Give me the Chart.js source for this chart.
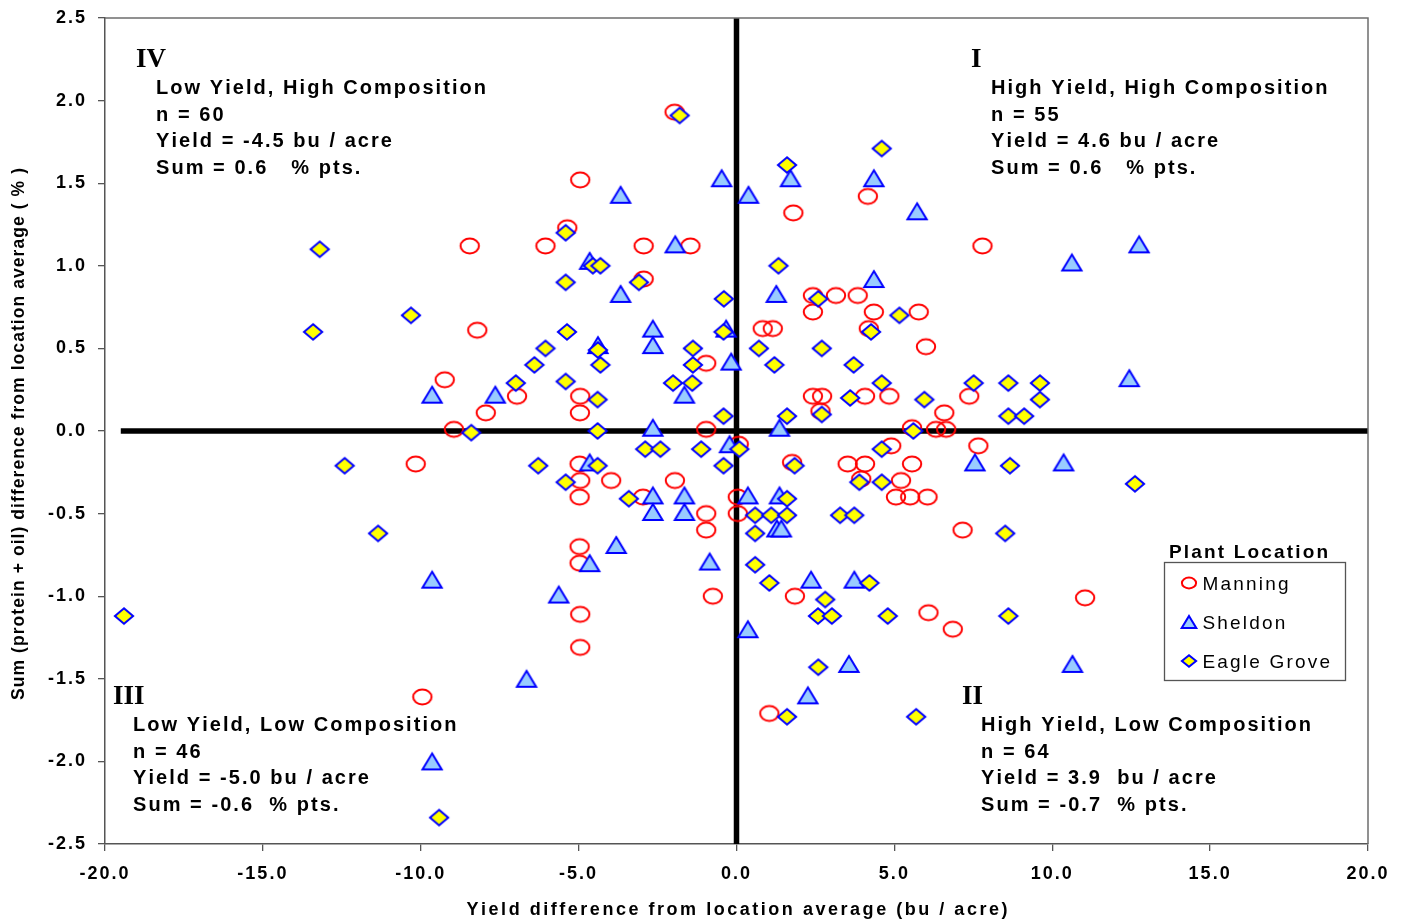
<!DOCTYPE html>
<html><head><meta charset="utf-8">
<script src="https://cdn.jsdelivr.net/npm/chart.js@4.4.1/dist/chart.umd.min.js"></script>
<style>html,body{margin:0;padding:0;background:#fff}#wrap{width:1408px;height:924px;position:relative}</style>
</head><body><div id="wrap"><canvas id="c"></canvas></div>
<script>
// ---- Data ----
const manningYield = [-4.95,-5.36,-8.45,-6.05,-8.21,-9.24,-6.95,-4.95,-4.96,-7.94,-8.95,-1.96,1.80,-2.94,-1.46,-2.94,2.42,3.15,2.42,0.83,1.15,-0.96,2.42,2.71,2.66,-0.96,4.16,7.79,3.84,4.35,5.77,4.19,6.00,4.07,4.84,7.37,6.58,5.56,6.32,6.64,-10.16,-4.97,-4.95,-3.97,-4.97,0.07,-1.95,1.76,-2.96,-0.96,-0.96,0.04,0.04,-0.75,1.85,1.04,-4.97,-4.97,-4.95,-4.95,-9.95,4.90,7.66,3.52,4.07,5.56,3.95,5.21,5.05,5.50,6.05,7.16,6.08,6.85,11.04];
const manningSum   = [1.52,1.23,1.12,1.12,0.61,0.31,0.21,0.21,0.11,0.11,0.01,1.93,1.32,1.12,1.12,0.92,0.82,0.82,0.72,0.62,0.62,0.41,0.21,0.21,0.12,0.01,1.42,1.12,0.82,0.72,0.72,0.62,0.51,0.21,0.21,0.21,0.11,0.02,0.01,0.01,-0.20,-0.20,-0.30,-0.30,-0.40,-0.08,-0.30,-0.19,-0.40,-0.50,-0.60,-0.40,-0.50,-1.00,-1.00,-1.71,-0.70,-0.80,-1.11,-1.31,-1.61,-0.09,-0.09,-0.20,-0.20,-0.20,-0.29,-0.30,-0.40,-0.40,-0.40,-0.60,-1.10,-1.20,-1.01];

const sheldonYield = [-3.67,-4.65,-3.67,-4.39,-9.64,-7.64,-0.47,0.38,1.71,-1.94,1.26,-2.65,-2.65,-0.33,-0.17,-1.65,1.36,-2.65,4.35,5.72,4.35,-4.65,-0.22,-2.65,-2.65,-1.65,-1.65,0.36,1.36,1.28,1.42,-3.81,-0.85,2.36,0.36,2.26,-4.65,-9.64,-5.63,-6.65,-9.64,7.55,10.36,3.73,3.56,10.62,12.75,12.44,10.64];
const sheldonSum   = [1.43,1.03,0.83,0.52,0.22,0.22,1.53,1.43,1.53,1.13,0.83,0.62,0.52,0.62,0.42,0.22,0.02,0.02,1.53,1.33,0.92,-0.19,-0.08,-0.39,-0.49,-0.39,-0.49,-0.39,-0.39,-0.59,-0.59,-0.69,-0.79,-0.90,-1.20,-1.60,-0.80,-0.90,-0.99,-1.50,-2.00,-0.19,-0.19,-0.90,-1.41,1.02,1.13,0.32,-1.41];

const egroveYield = [-5.41,-4.55,-4.31,-5.41,-10.31,-5.37,-4.39,-6.05,-6.40,-4.31,-6.99,-5.41,-4.40,-8.40,-4.40,-1.80,1.60,-3.09,1.33,-0.40,2.59,-0.41,0.71,2.70,-1.38,-1.38,1.20,-2.01,-1.40,2.70,-0.41,1.60,4.60,5.16,4.26,3.71,4.60,7.51,8.61,9.61,3.60,5.95,9.61,8.61,9.11,5.60,-6.28,-4.40,-5.41,-2.89,-2.41,-1.12,0.09,-0.41,1.84,-3.41,0.59,0.59,1.10,1.60,1.60,0.59,1.04,2.81,2.58,3.02,2.59,1.60,-11.35,-9.42,4.60,8.66,3.89,4.60,3.28,3.73,8.51,4.21,4.79,8.61,5.69,-13.20,-13.41,-12.41,-19.40,12.62];
const egroveSum   = [1.20,1.00,1.00,0.90,0.70,0.60,0.49,0.50,0.40,0.40,0.29,0.30,0.19,-0.01,0.00,1.91,1.61,0.90,1.00,0.80,0.80,0.60,0.50,0.50,0.50,0.40,0.40,0.29,0.29,0.10,0.09,0.09,1.71,0.70,0.60,0.40,0.29,0.29,0.29,0.29,0.20,0.19,0.19,0.09,0.09,0.00,-0.21,-0.21,-0.31,-0.11,-0.11,-0.11,-0.11,-0.21,-0.21,-0.41,-0.51,-0.62,-0.51,-0.51,-0.41,-0.81,-0.92,-1.02,-1.12,-1.12,-1.43,-1.73,-0.62,-2.34,-0.11,-0.21,-0.31,-0.31,-0.51,-0.51,-0.62,-0.92,-1.12,-1.12,-1.73,1.10,0.60,-0.21,-1.12,-0.32];

const seriesNames = ["Manning","Sheldon","Eagle Grove"];
const legendTitle = "Plant Location";
const xTitle = "Yield difference from location average (bu / acre)";
const yTitle = "Sum (protein + oil) difference from location average ( % )";
const xRange = [-20, 20];
const yRange = [-2.5, 2.5];
const xStep = 5;
const yStep = 0.5;
const vLine = [[0, -2.5], [0, 2.5]];
const hLine = [[-19.5, 0], [20, 0]];
const quadNumerals = ["IV", "I", "III", "II"];
const quadIV  = ["Low Yield, High Composition", "n = 60", "Yield = -4.5 bu / acre", "Sum = 0.6   % pts."];
const quadI   = ["High Yield, High Composition", "n = 55", "Yield = 4.6 bu / acre", "Sum = 0.6   % pts."];
const quadIII = ["Low Yield, Low Composition", "n = 46", "Yield = -5.0 bu / acre", "Sum = -0.6  % pts."];
const quadII  = ["High Yield, Low Composition", "n = 64", "Yield = 3.9  bu / acre", "Sum = -0.7  % pts."];

// ---- helpers ----
const SANS = '"Liberation Sans", Arial, Helvetica, sans-serif';
const SERIF = '"Liberation Serif", "Times New Roman", serif';
function pts(xs, ys){ return xs.map((x,i)=>({x:x, y:ys[i]})); }
function mk(w,h,draw){ const c=document.createElement('canvas'); c.width=w; c.height=h; const g=c.getContext('2d'); draw(g,w/2,h/2); return c; }
function circleMk(rx,ry){ return mk(26,22,(g,cx,cy)=>{ g.beginPath(); g.ellipse(cx,cy,rx,ry,0,0,Math.PI*2); g.lineWidth=2; g.strokeStyle='#FF0000'; g.stroke(); }); }
function triMk(hw,hh){ return mk(28,26,(g,cx,cy)=>{ g.beginPath(); g.moveTo(cx,cy-hh); g.lineTo(cx+hw,cy+hh); g.lineTo(cx-hw,cy+hh); g.closePath(); g.fillStyle='#99CCFF'; g.fill(); g.lineWidth=2; g.lineJoin='miter'; g.strokeStyle='#0000FF'; g.stroke(); }); }
function diaMk(hw,hh){ return mk(28,24,(g,cx,cy)=>{ g.beginPath(); g.moveTo(cx,cy-hh); g.lineTo(cx+hw,cy); g.lineTo(cx,cy+hh); g.lineTo(cx-hw,cy); g.closePath(); g.fillStyle='#FFFF00'; g.fill(); g.lineWidth=2; g.strokeStyle='#0000FF'; g.stroke(); }); }
const circleImg = circleMk(9.2,7.4), triImg = triMk(9.6,7.9), diaImg = diaMk(9.1,7.8);
const circleLg = circleMk(7.1,5.4), triLg = triMk(7.3,6.1), diaLg = diaMk(7.1,5.7);

function natWidth(ctx,t){ let w=0; for(const ch of t) w+=ctx.measureText(ch).width; return w; }
function spacedWidth(ctx,t,sp){ return natWidth(ctx,t) + sp*([...t].length-1); }
function fitSpacing(ctx,t,target){ return (target-natWidth(ctx,t))/([...t].length-1); }
function drawSpaced(ctx,t,x,y,sp,align){
  const w=spacedWidth(ctx,t,sp);
  let cx = align==='center' ? x-w/2 : (align==='right' ? x-w : x);
  ctx.textAlign='left';
  for(const ch of t){ ctx.fillText(ch,cx,y); cx += ctx.measureText(ch).width + sp; }
}

const decor = {
  id:'decor',
  beforeDraw(chart){ chart.ctx.letterSpacing='2px'; },
  beforeDatasetsDraw(chart){ chart.ctx.letterSpacing='0px'; },
  afterDraw(chart){
    const ctx=chart.ctx, a=chart.chartArea;
    ctx.save();
    ctx.letterSpacing='0px';
    // top and right frame
    ctx.strokeStyle='#6e6e6e'; ctx.lineWidth=1.5;
    ctx.beginPath(); ctx.moveTo(a.left,a.top); ctx.lineTo(a.right,a.top); ctx.lineTo(a.right,a.bottom); ctx.stroke();
    ctx.fillStyle='#000'; ctx.textBaseline='alphabetic';
    // quadrant numerals
    ctx.font='bold 27px '+SERIF;
    ctx.textAlign='left';
    ctx.fillText(quadNumerals[0], 136, 67);
    ctx.fillText(quadNumerals[1], 971, 67);
    ctx.fillText(quadNumerals[2], 113, 704);
    ctx.fillText(quadNumerals[3], 962, 704);
    // quadrant text blocks
    ctx.font='bold 20px '+SANS;
    const sp = fitSpacing(ctx, quadIV[0], 330);
    const block=(lines,x,y0)=>{ lines.forEach((t,i)=>drawSpaced(ctx,t,x,y0+i*26.6,sp,'left')); };
    block(quadIV,156,94);
    block(quadI,991,94);
    block(quadIII,133,731);
    block(quadII,981,731);
    // legend
    ctx.font='bold 19px '+SANS;
    drawSpaced(ctx, legendTitle, 1169, 558, fitSpacing(ctx,legendTitle,159), 'left');
    ctx.strokeStyle='#555'; ctx.lineWidth=1.3;
    ctx.strokeRect(1164.5,562.5,181,118);
    ctx.font='19px '+SANS;
    const lsp = fitSpacing(ctx, seriesNames[0], 86);
    const imgs=[circleLg,triLg,diaLg], ly=[582.7,622,661];
    seriesNames.forEach((n,i)=>{
      ctx.drawImage(imgs[i], Math.round(1189-imgs[i].width/2), Math.round(ly[i]-imgs[i].height/2));
      drawSpaced(ctx,n,1202.5,ly[i]+6.8,lsp,'left');
    });
    // axis titles
    ctx.font='bold 18px '+SANS;
    drawSpaced(ctx, xTitle, 737, 915, fitSpacing(ctx,xTitle,541), 'center');
    ctx.save();
    ctx.translate(24, 434); ctx.rotate(-Math.PI/2);
    ctx.font='bold 17.5px '+SANS;
    drawSpaced(ctx, yTitle, 0, 0, fitSpacing(ctx,yTitle,532), 'center');
    ctx.restore();
    ctx.restore();
  }
};

const tickFont = {family:SANS, size:18, weight:'bold'};
new Chart(document.getElementById('c'), {
  type:'scatter',
  data:{ datasets:[
    { type:'line', label:'v', data:vLine.map(p=>({x:p[0],y:p[1]})), borderColor:'#000', borderWidth:5.5, pointRadius:0, order:10, clip:false },
    { type:'line', label:'h', data:hLine.map(p=>({x:p[0],y:p[1]})), borderColor:'#000', borderWidth:5.5, pointRadius:0, order:10, clip:false },
    { label:seriesNames[0], data:pts(manningYield,manningSum), pointStyle:circleImg, pointRadius:10, order:3 },
    { label:seriesNames[1], data:pts(sheldonYield,sheldonSum), pointStyle:triImg, pointRadius:10, order:2 },
    { label:seriesNames[2], data:pts(egroveYield,egroveSum), pointStyle:diaImg, pointRadius:10, order:1 }
  ]},
  options:{
    responsive:true, maintainAspectRatio:false, animation:false,
    events:[],
    layout:{ padding:{ left:0, top:18, right:40, bottom:0 } },
    plugins:{ legend:{display:false}, tooltip:{enabled:false}, title:{display:false} },
    scales:{
      x:{ type:'linear', position:'bottom', min:xRange[0], max:xRange[1],
          ticks:{ stepSize:xStep, font:tickFont, color:'#000', padding:12, maxRotation:0, autoSkip:false, callback:v=>Number(v).toFixed(1) },
          grid:{ drawOnChartArea:false, drawTicks:true, tickLength:7, color:'#555', lineWidth:1.3 },
          border:{ display:true, color:'#555', width:1.5 },
          afterFit:s=>{ s.height=80; s.paddingLeft=0; s.paddingRight=0; } },
      y:{ type:'linear', position:'left', min:yRange[0], max:yRange[1],
          ticks:{ stepSize:yStep, font:tickFont, color:'#000', padding:11, autoSkip:false, callback:v=>Number(v).toFixed(1) },
          grid:{ drawOnChartArea:false, drawTicks:true, tickLength:7, color:'#555', lineWidth:1.3 },
          border:{ display:true, color:'#555', width:1.5 },
          afterFit:s=>{ s.width=105; s.paddingTop=0; s.paddingBottom=0; } }
    }
  },
  plugins:[decor]
});
</script></body></html>
